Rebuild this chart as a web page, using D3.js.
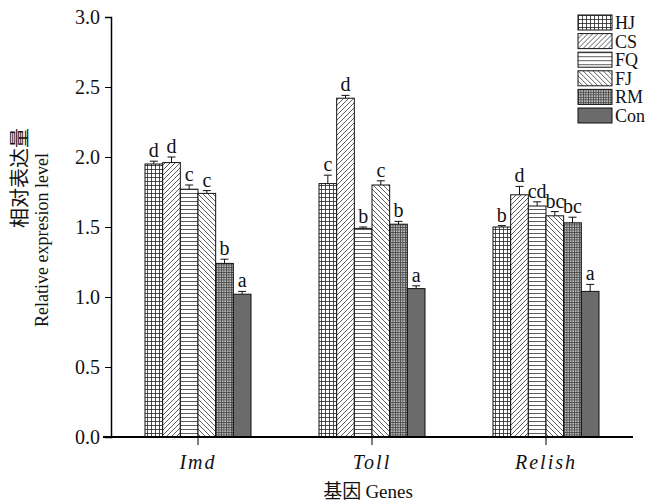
<!DOCTYPE html>
<html>
<head>
<meta charset="utf-8">
<script src="https://cdn.jsdelivr.net/npm/d3@7"></script>
<style>
  body { margin: 0; background: #fff; }
  svg text { font-family: "Liberation Serif", "DejaVu Serif", serif; fill: #111; }
  svg text.cjk { font-family: "Noto Sans CJK SC", "Liberation Serif", serif; }
</style>
</head>
<body>
<svg id="chart" width="667" height="504"></svg>
<script>
var genes = ['Imd', 'Toll', 'Relish'],
    groups = ['HJ', 'CS', 'FQ', 'FJ', 'RM', 'Con'],
    values = {
      Imd:    [1.95, 1.96, 1.77, 1.74, 1.24, 1.02],
      Toll:   [1.81, 2.42, 1.49, 1.80, 1.52, 1.06],
      Relish: [1.50, 1.73, 1.65, 1.58, 1.53, 1.04]
    },
    errors = {
      Imd:    [0.02, 0.04, 0.03, 0.02, 0.03, 0.02],
      Toll:   [0.06, 0.02, 0.01, 0.03, 0.02, 0.02],
      Relish: [0.01, 0.06, 0.03, 0.03, 0.04, 0.05]
    },
    letters = {
      Imd:    ['d', 'd', 'c', 'c', 'b', 'a'],
      Toll:   ['c', 'd', 'b', 'c', 'b', 'a'],
      Relish: ['b', 'd', 'cd', 'bc', 'bc', 'a']
    },
    yTicks = [0, 0.5, 1.0, 1.5, 2.0, 2.5, 3.0];

var svg = d3.select('#chart'),
    margin = {top: 17, left: 111, right: 34, bottom: 67},
    width = 667 - margin.left - margin.right,
    height = 504 - margin.top - margin.bottom;

// fill patterns
var defs = svg.append('defs');
function pattern(id, size, bg, draw) {
  var p = defs.append('pattern').attr('id', id)
    .attr('patternUnits', 'userSpaceOnUse')
    .attr('width', size).attr('height', size);
  p.append('rect').attr('width', size).attr('height', size).attr('fill', bg);
  draw(p);
}
pattern('pHJ', 4, '#fff', function(p) {
  p.append('path').attr('d', 'M0,0.5H4M0.5,0V4').attr('stroke', '#222').attr('stroke-width', 0.8);
});
pattern('pCS', 5, '#fff', function(p) {
  p.append('path').attr('d', 'M0,5L5,0M-1,1L1,-1M4,6L6,4').attr('stroke', '#333').attr('stroke-width', 0.8);
});
pattern('pFQ', 4, '#fff', function(p) {
  p.append('path').attr('d', 'M0,0.5H4').attr('stroke', '#333').attr('stroke-width', 0.8);
});
pattern('pFJ', 5, '#fff', function(p) {
  p.append('path').attr('d', 'M0,0L5,5M-1,4L1,6M4,-1L6,1').attr('stroke', '#333').attr('stroke-width', 0.8);
});
pattern('pRM', 2.5, '#bbb', function(p) {
  p.append('path').attr('d', 'M0,0.4H2.5M0.4,0V2.5').attr('stroke', '#444').attr('stroke-width', 0.8);
});
var fills = {HJ: 'url(#pHJ)', CS: 'url(#pCS)', FQ: 'url(#pFQ)', FJ: 'url(#pFJ)', RM: 'url(#pRM)', Con: '#6b6b6b'};

var g = svg.append('g').attr('transform', 'translate(' + margin.left + ',' + margin.top + ')');

var x0 = d3.scaleBand().domain(genes).range([0, width]);
var x1 = d3.scaleBand().domain(groups).range([34, 140]);
var y = d3.scaleLinear().domain([0, 3]).range([height, 0]);

// bars
var gene = g.selectAll('.gene').data(genes).enter().append('g')
  .attr('transform', function(d) { return 'translate(' + x0(d) + ',0)'; });

gene.each(function(gn) {
  var sel = d3.select(this);
  groups.forEach(function(gr, i) {
    var v = values[gn][i], e = errors[gn][i],
        bx = x1(gr), bw = x1.bandwidth(), cx = bx + bw / 2;
    sel.append('rect')
      .attr('x', bx).attr('y', y(v))
      .attr('width', bw).attr('height', height - y(v))
      .attr('fill', fills[gr]).attr('stroke', '#111').attr('stroke-width', 1);
    sel.append('line').attr('x1', cx).attr('x2', cx)
      .attr('y1', y(v)).attr('y2', y(v + e)).attr('stroke', '#111');
    sel.append('line').attr('x1', cx - 4).attr('x2', cx + 4)
      .attr('y1', y(v + e)).attr('y2', y(v + e)).attr('stroke', '#111');
    sel.append('text').attr('x', cx).attr('y', y(v + e) - 4)
      .attr('text-anchor', 'middle').style('font-size', '20px')
      .text(letters[gn][i]);
  });
});

// axes
var yAxis = g.append('g').call(d3.axisLeft(y).tickValues(yTicks).tickFormat(d3.format('.1f')).tickSize(6).tickPadding(5));
yAxis.selectAll('text').style('font-size', '20px');
yAxis.select('.domain').attr('stroke-width', 1.5);

var xAxis = g.append('g').attr('transform', 'translate(0,' + height + ')')
  .call(d3.axisBottom(x0).tickSize(8).tickSizeOuter(0).tickPadding(10));
xAxis.selectAll('text').style('font-size', '20px').style('font-style', 'italic')
  .style('letter-spacing', '2px');
xAxis.select('.domain').attr('stroke-width', 2).attr('d', 'M-8,0H' + width);

// axis titles
var xt = svg.append('text').attr('transform', 'translate(368,498)')
  .attr('text-anchor', 'middle').style('font-size', '19px');
xt.append('tspan').style('font-family', '"Noto Sans CJK SC", serif').text('基因 ');
xt.append('tspan').text('Genes');

svg.append('text').attr('class', 'cjk').attr('transform', 'translate(27,178) rotate(-90)')
  .attr('text-anchor', 'middle').style('font-size', '20px')
  .text('相对表达量');
svg.append('text').attr('transform', 'translate(48,240) rotate(-90)')
  .attr('text-anchor', 'middle').style('font-size', '18px')
  .text('Relative expresion level');

// legend
var legend = svg.append('g').attr('transform', 'translate(578,15)');
var row = legend.selectAll('g').data(groups).enter().append('g')
  .attr('transform', function(d, i) { return 'translate(0,' + (i * 18.6) + ')'; });
row.append('rect').attr('width', 34).attr('height', 15)
  .attr('fill', function(d) { return fills[d]; }).attr('stroke', '#111').attr('stroke-width', 1);
row.append('text').attr('x', 37).attr('y', 14).style('font-size', '18px').text(function(d) { return d; });
</script>
</body>
</html>
